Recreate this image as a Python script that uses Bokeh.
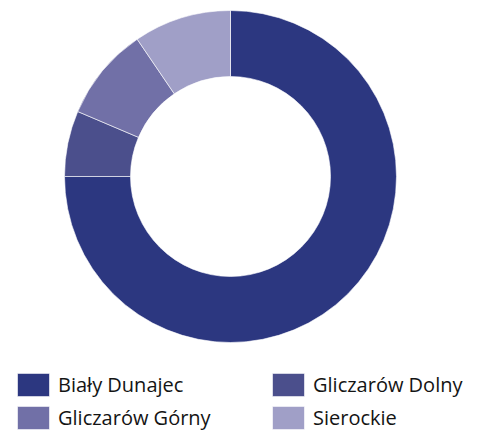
import numpy as np
from bokeh.plotting import figure
from bokeh.models import ColumnDataSource, Range1d, Legend, LegendItem
from bokeh.embed import file_html
from bokeh.resources import INLINE

# Data (share of area, %), clockwise from 12 o'clock
categories = ["Biały Dunajec", "Gliczarów Dolny", "Gliczarów Górny", "Sierockie"]
values = [75.0, 6.4, 9.1, 9.5]
colors = ["#2c3780", "#4b4f8c", "#7170a7", "#a09fc7"]

W, H = 464, 430
vals = np.array(values, dtype=float)
frac = vals / vals.sum()
cum = np.concatenate([[0.0], np.cumsum(frac)])
start = np.pi / 2 - cum[:-1] * 2 * np.pi
end = np.pi / 2 - cum[1:] * 2 * np.pi

src = ColumnDataSource(dict(cat=categories, val=values, color=colors,
                            start=start, end=end))

p = figure(width=W, height=H, output_backend="svg", toolbar_location=None,
           x_range=Range1d(0, W), y_range=Range1d(0, H),
           min_border=0, outline_line_color=None)
p.axis.visible = False
p.grid.visible = False

cx, cy = 230, H - 176
r = p.annular_wedge(x=cx, y=cy, inner_radius=100, outer_radius=166,
                    start_angle="start", end_angle="end", direction="clock",
                    fill_color="color", line_color="white", line_width=0.6,
                    source=src)

def make_legend(idx, loc):
    items = [LegendItem(label=categories[i], renderers=[r], index=i) for i in idx]
    lg = Legend(items=items, location=loc, orientation="vertical",
                padding=0, margin=0, spacing=4,
                glyph_width=40, glyph_height=29, label_height=29,
                label_standoff=5,
                label_text_font="Open Sans", label_text_font_size="20px",
                label_text_color="#141414",
                border_line_color=None, background_fill_alpha=0)
    return lg

p.add_layout(make_legend([0, 2], (13, -2)))
p.add_layout(make_legend([1, 3], (268, -2)))

open("out.html", "w").write(file_html(p, INLINE))
